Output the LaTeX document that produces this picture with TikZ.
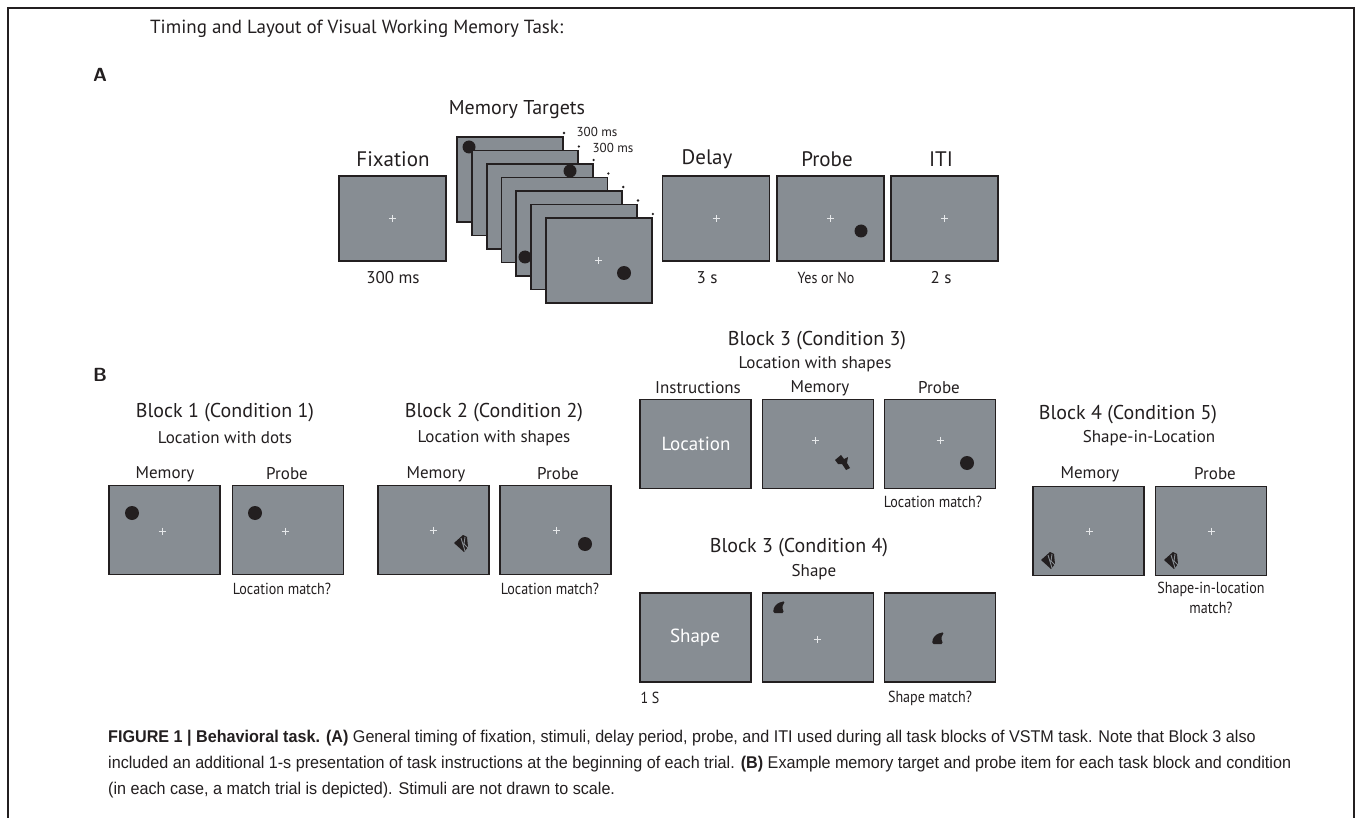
\documentclass[tikz,border=0pt]{standalone}
\usepackage{fontspec}
\setmainfont{PT Sans}
\newfontfamily\condfont{PT Sans}[FakeStretch=0.88]
\newfontfamily\capfont{Liberation Sans}[FakeStretch=0.95]
\definecolor{ink}{HTML}{231F20}
\definecolor{scr}{HTML}{878D93}
\definecolor{crossc}{HTML}{E6E8EA}
\tikzset{
  scrn/.style={draw=ink, fill=scr, line width=1.8pt, minimum width=111pt, minimum height=89pt, inner sep=0pt, outer sep=0pt},
  scrA/.style={scrn, minimum width=107pt, minimum height=85pt},
  scrS/.style={scrn, minimum width=106pt, minimum height=85pt},
  hdr/.style={text=ink, font=\fontsize{20}{24}\selectfont, inner sep=0pt},
  sub/.style={text=ink, font=\fontsize{17}{20}\selectfont, inner sep=0pt},
  tiny/.style={text=ink, font=\fontsize{13}{15}\selectfont, inner sep=0pt},
  cond/.style={text=ink, font=\condfont\fontsize{16}{18}\selectfont, inner sep=0pt, align=center},
  wht/.style={text=white, font=\fontsize{19}{22}\selectfont, inner sep=0pt},
  capl/.style={text=ink, font=\capfont\fontsize{17}{20}\selectfont, inner sep=0pt, anchor=base west},
  xcross/.pic={\draw[crossc, line width=0.7pt] (-3.5,0)--(3.5,0) (0,-3.5)--(0,3.5);},
  fan/.pic={\fill[ink] (-8,0) -- (1,-8) -- (5,-6) -- (6,4) -- (2,9) -- cycle;
            \draw[scr, line width=0.9pt] (-1,-5)--(3,8) (3,-6)--(2,1)--(6,5);},
  boot/.pic={\fill[ink] (-8,-2) -- (-2,-7) -- (1,-3) -- (5,-5) -- (4,1) -- (7,6) -- (3,8) -- (-1,2) -- (-5,2) -- cycle;},
  fin/.pic={\fill[ink, rounded corners=1.5pt] (-6,6) -- (-5,0) -- (-1,-4) -- (6,-6) -- (3,0) -- (5,6) -- cycle;}
}
\begin{document}
\begin{tikzpicture}[x=1pt,y=-1pt]
\useasboundingbox (0,0) rectangle (1357,818);
\fill[white] (0,0) rectangle (1357,818);
% frame
\draw[ink, line width=1.3pt] (8,818) -- (8,8) -- (1354,8) -- (1354,818);

\node[hdr, anchor=base west, font=\fontsize{19}{22}\selectfont] (title) at (150,34) {Timing and Layout of Visual Working Memory Task:};
\node[text=ink, font=\sffamily\bfseries\fontsize{19}{22}\selectfont, inner sep=0pt] (lA) at (100,75) {A};
\node[text=ink, font=\sffamily\bfseries\fontsize{19}{22}\selectfont, inner sep=0pt] (lB) at (100,375) {B};

% ---------- Panel A
\node[scrA] (fix) at (392.5,218.5) {};
\pic at (fix.center) {xcross};
\node[hdr, font=\fontsize{21}{24}\selectfont] (tfix) at (393,159) {Fixation};
\node[sub] (dfix) at (393,278) {300 ms};

\node[hdr] (tmem) at (517,110) {Memory Targets};
\foreach \k in {0,...,6} {
  \node[scrS] (s\k) at ({510+14.8*\k},{179.5+13.5*\k}) {};
  \fill[ink] ({564+14.8*\k},{133+13.5*\k}) circle (1.3);
  \ifnum\k=0 \fill[ink] (469,147) circle (6.5); \fi
  \ifnum\k=2 \fill[ink] (570,171) circle (6.5); \fi
  \ifnum\k=4 \fill[ink] (525,257) circle (6.5); \fi
}
\pic at (s6.center) {xcross};
\fill[ink] (624,273) circle (7);
\node[tiny] (t300a) at (597,132) {300 ms};
\node[tiny] (t300b) at (613,148) {300 ms};

\node[scrA] (delay) at (716,218.5) {};
\pic at (delay.center) {xcross};
\node[hdr, font=\fontsize{21}{24}\selectfont] (tdel) at (707,159) {Delay};
\node[sub] (ddel) at (707,278) {3 s};

\node[scrA] (probeA) at (830.5,218.5) {};
\pic at (probeA.center) {xcross};
\fill[ink] (861,231) circle (6.5);
\node[hdr, font=\fontsize{21}{24}\selectfont] (tprA) at (827,159) {Probe};
\node[cond] (dprA) at (826,278) {Yes or No};

\node[scrA] (iti) at (944.5,218.5) {};
\pic at (iti.center) {xcross};
\node[hdr, font=\fontsize{21}{24}\selectfont] (titi) at (941,159) {ITI};
\node[sub] (diti) at (941,278) {2 s};

% ---------- Block 1
\node[hdr] (b1t) at (225,413) {Block 1 (Condition 1)};
\node[sub] (b1s) at (225,438) {Location with dots};
\node[scrn] (b1m) at (164.5,530) {};
\node[scrn] (b1p) at (288,530) {};
\node[sub] (b1ml) at (165,474) {Memory};
\node[sub] (b1pl) at (287,474) {Probe};
\pic at (162,531) {xcross};
\pic at (285,531) {xcross};
\fill[ink] (132,513) circle (7);
\fill[ink] (255,513) circle (7);
\node[cond] (b1q) at (282,589) {Location match?};

% ---------- Block 2
\node[hdr] (b2t) at (494,413) {Block 2 (Condition 2)};
\node[sub] (b2s) at (494,438) {Location with shapes};
\node[scrn] (b2m) at (433.5,530) {};
\node[scrn] (b2p) at (555.5,530) {};
\node[sub] (b2ml) at (436,474) {Memory};
\node[sub] (b2pl) at (558,474) {Probe};
\pic at (433,530) {xcross};
\pic at (556,530) {xcross};
\pic at (462,543) {fan};
\fill[ink] (585,544) circle (7);
\node[cond] (b2q) at (550,589) {Location match?};

% ---------- Block 3 (Condition 3)
\node[hdr] (b3t) at (817,341) {Block 3 (Condition 3)};
\node[sub] (b3s) at (815,364) {Location with shapes};
\node[sub] (b3il) at (698,388) {Instructions};
\node[sub] (b3ml) at (820,388) {Memory};
\node[sub] (b3pl) at (939,388) {Probe};
\node[scrn] (b3i) at (695.5,444) {};
\node[scrn] (b3m) at (818,444) {};
\node[scrn] (b3p) at (940,444) {};
\node[wht] (b3it) at (696,444) {Location};
\pic at (815,440) {xcross};
\pic at (940,440) {xcross};
\pic at (843,462) {boot};
\fill[ink] (967,463) circle (7);
\node[cond] (b3q) at (933,502) {Location match?};

% ---------- Block 3 (Condition 4)
\node[hdr] (b4t) at (799,548) {Block 3 (Condition 4)};
\node[sub] (b4s) at (814,572) {Shape};
\node[scrn] (b4i) at (695.5,637.5) {};
\node[scrn] (b4m) at (818,637.5) {};
\node[scrn] (b4p) at (940,637.5) {};
\node[wht] (b4it) at (695,638) {Shape};
\pic at (817,639) {xcross};
\pic at (779,607) {fin};
\pic at (938,638) {fin};
\node[cond] (b4d) at (650,698) {1 S};
\node[cond] (b4q) at (930,698) {Shape match?};

% ---------- Block 4 (Condition 5)
\node[hdr] (b5t) at (1128,415) {Block 4 (Condition 5)};
\node[sub] (b5s) at (1149,438) {Shape-in-Location};
\node[sub] (b5ml) at (1090,474) {Memory};
\node[sub] (b5pl) at (1215,474) {Probe};
\node[scrn] (b5m) at (1088.5,531) {};
\node[scrn] (b5p) at (1211,531) {};
\pic at (1089,531) {xcross};
\pic at (1211,531) {xcross};
\pic at (1049,560) {fan};
\pic at (1172,560) {fan};
\node[cond] (b5q) at (1211,589) {Shape-in-location};
\node[cond] (b5q2) at (1211,608) {match?};

% ---------- caption
\node[capl] (c1) at (108,742) {\textbf{FIGURE 1 | Behavioral task. (A)} General timing of fixation, stimuli, delay period, probe, and ITI used during all task blocks of VSTM task. Note that Block 3 also};
\node[capl] (c2) at (108,768) {included an additional 1-s presentation of task instructions at the beginning of each trial. \textbf{(B)} Example memory target and probe item for each task block and condition};
\node[capl] (c3) at (108,794) {(in each case, a match trial is depicted). Stimuli are not drawn to scale.};
\end{tikzpicture}
\end{document}
